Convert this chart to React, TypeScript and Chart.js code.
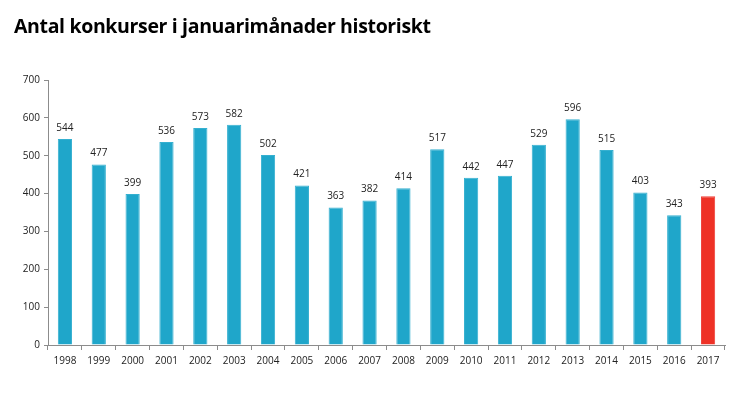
import React, { useEffect, useRef } from "react";
import { Chart, registerables } from "chart.js";

Chart.register(...registerables);

const title = "Antal konkurser i januarimånader historiskt";
const years = ["1998","1999","2000","2001","2002","2003","2004","2005","2006","2007","2008","2009","2010","2011","2012","2013","2014","2015","2016","2017"];
const counts = [544,477,399,536,573,582,502,421,363,382,414,517,442,447,529,596,515,403,343,393];
const yTicks = [0,100,200,300,400,500,600,700];
const blue = "#1FA6CA";
const red = "#EE3126";

const labelPlugin = {
  id: "valueLabels",
  afterDatasetsDraw(chart: any) {
    const ctx = chart.ctx;
    const meta = chart.getDatasetMeta(0);
    ctx.save();
    ctx.font = "10px 'Open Sans', sans-serif";
    ctx.fillStyle = "#222";
    ctx.textAlign = "center";
    ctx.textBaseline = "bottom";
    meta.data.forEach((bar: any, i: number) => {
      ctx.fillText(String(counts[i]), bar.x, bar.y - 6);
    });
    ctx.restore();
  },
};

export default function App() {
  const ref = useRef<HTMLCanvasElement>(null);
  useEffect(() => {
    document.body.style.margin = "0";
    const chart = new Chart(ref.current!, {
      type: "bar",
      data: {
        labels: years,
        datasets: [
          {
            data: counts,
            backgroundColor: years.map((_, i) => (i === years.length - 1 ? red : blue)),
            borderColor: years.map((_, i) => (i === years.length - 1 ? "#EF4038" : "#35B0D0")),
            borderWidth: 1,
            categoryPercentage: 1,
            barPercentage: 0.42,
          },
        ],
      },
      options: {
        responsive: false,
        animation: false,
        layout: { padding: { top: 80, right: 21, bottom: 0, left: 0 } },
        plugins: { legend: { display: false }, tooltip: { enabled: false }, title: { display: false } },
        scales: {
          x: {
            grid: { display: true, drawOnChartArea: false, drawTicks: true, tickLength: 5, color: "#8c8c8c", offset: true },
            border: { display: true, color: "#8c8c8c" },
            ticks: { color: "#222", font: { family: "'Open Sans', sans-serif", size: 10 }, maxRotation: 0, padding: 5 },
            afterFit: (s: any) => { s.height = 51; },
          },
          y: {
            min: 0,
            max: 700,
            afterBuildTicks: (s: any) => { s.ticks = yTicks.map((v) => ({ value: v })); },
            grid: { display: true, drawOnChartArea: false, drawTicks: true, tickLength: 4, color: "#8c8c8c" },
            border: { display: true, color: "#8c8c8c" },
            ticks: { color: "#222", font: { family: "'Open Sans', sans-serif", size: 10 }, padding: 4 },
            afterFit: (s: any) => { s.width = 48; },
          },
        },
      },
      plugins: [labelPlugin],
    });
    return () => chart.destroy();
  }, []);
  return (
    <div style={{ position: "relative", width: 746, height: 396, background: "#fff" }}>
      <div
        style={{
          position: "absolute",
          left: 14,
          top: 12,
          fontFamily: "'Open Sans', sans-serif",
          fontWeight: 700,
          fontSize: 19.5,
          letterSpacing: -0.35,
          color: "#000",
          whiteSpace: "nowrap",
        }}
      >
        {title}
      </div>
      <canvas ref={ref} width={746} height={396} style={{ display: "block" }} />
    </div>
  );
}
